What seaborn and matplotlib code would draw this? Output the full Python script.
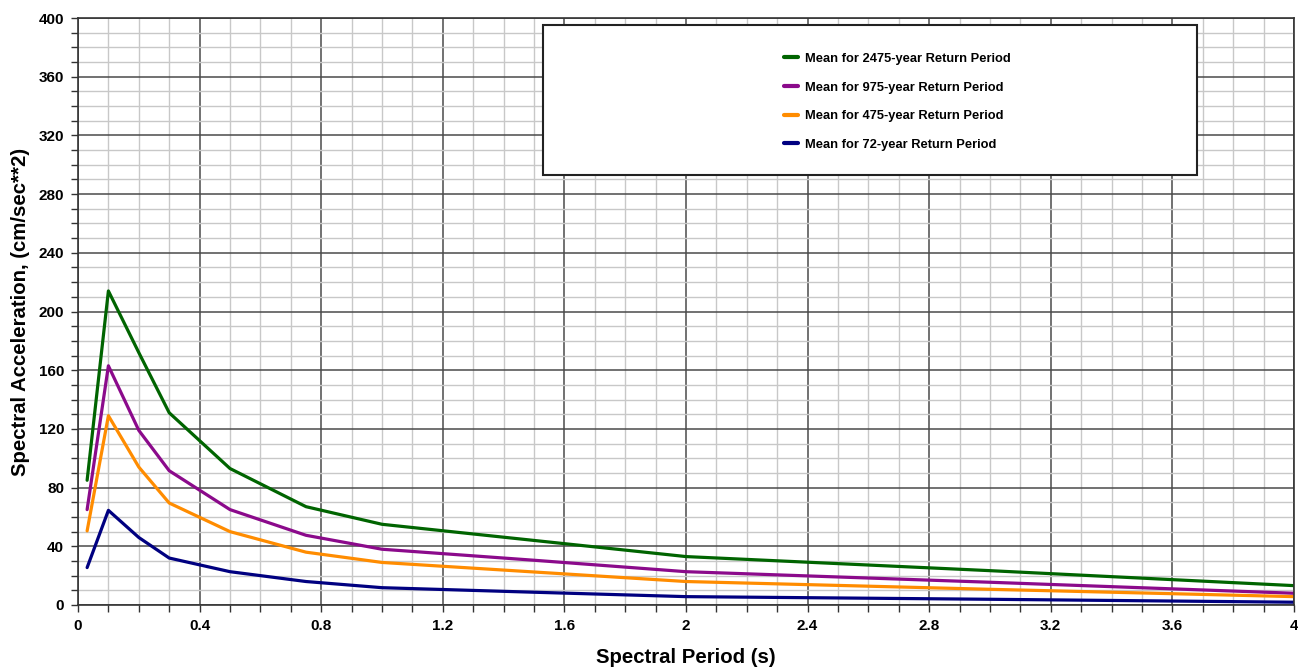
import numpy as np
import pandas as pd
import matplotlib
matplotlib.use("Agg")
import matplotlib.pyplot as plt
import seaborn as sns
from matplotlib.patches import Rectangle
from matplotlib.ticker import MultipleLocator

# ---- data ----
periods = [0.03, 0.1, 0.2, 0.3, 0.5, 0.75, 1.0, 1.5, 2.0, 3.0, 4.0]
mean_2475 = [85, 214, 172, 131, 93, 67, 55, 44, 33, 23.4, 13.2]
mean_975 = [65, 163, 119, 91.5, 65, 47.5, 38, 30.5, 22.7, 15.5, 8.0]
mean_475 = [50.5, 129, 94, 69.5, 50, 36, 29, 22.5, 16, 10.7, 5.7]
mean_72 = [25.5, 64.5, 46, 32, 22.7, 16, 11.8, 8.7, 5.7, 3.9, 1.9]

series_labels = ["Mean for 2475-year Return Period",
                 "Mean for 975-year Return Period",
                 "Mean for 475-year Return Period",
                 "Mean for 72-year Return Period"]
series_colors = ["#006400", "#8B0A8B", "#FF8C00", "#000080"]
x_ticks = [0, 0.4, 0.8, 1.2, 1.6, 2, 2.4, 2.8, 3.2, 3.6, 4]
x_tick_labels = ["0", "0.4", "0.8", "1.2", "1.6", "2", "2.4", "2.8", "3.2", "3.6", "4"]
y_ticks = list(range(0, 401, 40))

rows = []
for lab, vals in zip(series_labels, [mean_2475, mean_975, mean_475, mean_72]):
    for p, v in zip(periods, vals):
        rows.append({"period": p, "value": v, "series": lab})
df = pd.DataFrame(rows)

sns.set_theme(style="white")
plt.rcParams["font.family"] = ["Liberation Sans", "DejaVu Sans"]
plt.rcParams["font.weight"] = "bold"
plt.rcParams["text.color"] = "black"
plt.rcParams["axes.labelcolor"] = "black"
plt.rcParams["xtick.color"] = "black"
plt.rcParams["ytick.color"] = "black"

fig = plt.figure(figsize=(12.98, 6.70), dpi=100)
ax = fig.add_axes([78/1298, 1-605/670, (1294-78)/1298, (605-18)/670])

sns.lineplot(data=df, x="period", y="value", hue="series",
             hue_order=series_labels, palette=series_colors,
             linewidth=2.3, ax=ax, legend=True)

ax.set_xlim(0, 4)
ax.set_ylim(0, 400)
ax.set_xticks(x_ticks)
ax.set_xticklabels(x_tick_labels)
ax.set_yticks(y_ticks)
ax.xaxis.set_minor_locator(MultipleLocator(0.1))
ax.yaxis.set_minor_locator(MultipleLocator(10))

ax.grid(which="minor", color="#c8c8c8", linewidth=1.0, zorder=0)
ax.grid(which="major", color="#4a4a4a", linewidth=1.1, zorder=0)
ax.set_axisbelow(True)

ax.tick_params(axis="both", which="both", direction="out", length=5,
               width=1, color="#333333", labelcolor="black", labelsize=11, pad=5,
               bottom=True, left=True)
for lbl in ax.get_xticklabels() + ax.get_yticklabels():
    lbl.set_fontweight("bold")

for s in ax.spines.values():
    s.set_color("#333333")
    s.set_linewidth(1.2)

ax.set_xlabel("Spectral Period (s)", fontsize=14.7, fontweight="bold",
              labelpad=11, color="black")
ax.set_ylabel("Spectral Acceleration, (cm/sec**2)", fontsize=14.7,
              fontweight="bold", labelpad=6, color="black")

# legend box
rect = Rectangle((0.382, 0.733), 0.538, 0.255, transform=ax.transAxes,
                 facecolor="white", edgecolor="#222222", linewidth=1.5, zorder=5)
ax.add_patch(rect)
leg = ax.legend(loc="upper left", bbox_to_anchor=(0.571, 0.9605), frameon=False,
                handlelength=1.1, handletextpad=0.55,
                labelspacing=1.29, prop={"weight": "bold", "size": 9.3})
leg.set_zorder(6)
for line in leg.get_lines():
    line.set_linewidth(3)
for t in leg.get_texts():
    t.set_color("black")

fig.savefig("out.png", dpi=100)
